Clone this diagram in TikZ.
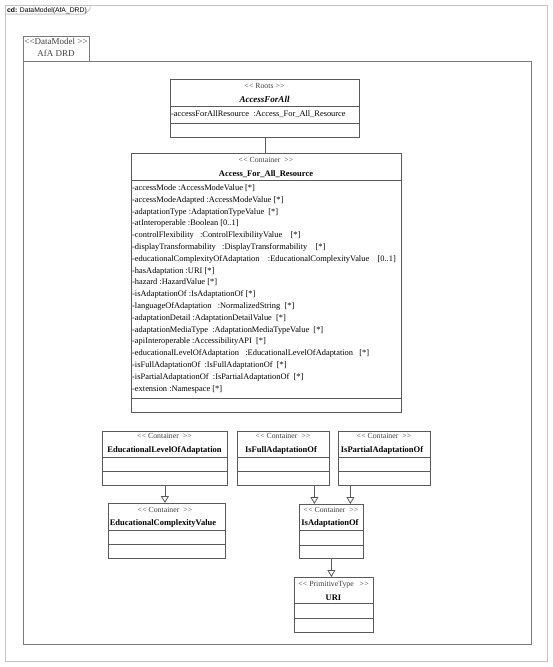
\documentclass[tikz,border=0pt]{standalone}
\usepackage{fontspec}
\setmainfont{Liberation Serif}
\newfontfamily\tabfont{Liberation Sans}
\usetikzlibrary{arrows.meta,calc}
\definecolor{framegray}{HTML}{C4C4C4}
\definecolor{pkggray}{HTML}{7A7A7A}
\definecolor{boxgray}{HTML}{5A5A5A}
\definecolor{stgray}{HTML}{404040}
\newcommand\stO{<\kern0.2pt<}
\newcommand\stC{>\kern0.2pt>}
\begin{document}
\begin{tikzpicture}[x=1pt,y=-1pt,
  cls/.style={draw=boxgray, line width=0.8pt, fill=white, rectangle, inner sep=0pt, anchor=north west},
  sep/.style={draw=boxgray, line width=0.8pt},
  stereo/.style={font=\fontsize{7.8}{9}\selectfont, text=stgray, inner sep=0pt, anchor=base},
  cname/.style={font=\bfseries\fontsize{8.5}{10}\selectfont, inner sep=0pt, anchor=base},
  attr/.style={font=\fontsize{8.4}{10}\selectfont, inner sep=0pt, anchor=base west},
  gen/.style={draw=boxgray, line width=0.8pt, -{Triangle[open, width=8pt, length=7pt]}},
]
\useasboundingbox (0,0) rectangle (553,667);
% diagram frame
\node[draw=framegray, line width=1pt, anchor=north west, minimum width=542pt, minimum height=656pt, inner sep=0pt] (frame) at (5,5) {};
\draw[framegray, line width=1pt] (5,14) -- (85,14) -- (90,9) -- (90,5);
\node[font=\tabfont\fontsize{6.8}{7}\selectfont, anchor=base west, inner sep=0pt] (cdlabel) at (7,12) {\textbf{cd:} DataModel(AfA\_DRD)};
% package
\node[draw=pkggray, line width=1pt, anchor=north west, minimum width=66pt, minimum height=25pt, inner sep=0pt] (pkgtab) at (23,36) {};
\node[draw=pkggray, line width=1pt, anchor=north west, minimum width=508pt, minimum height=583pt, inner sep=0pt] (pkg) at (23,61) {};
\node[font=\fontsize{9}{10}\selectfont, text=stgray, inner sep=0pt, anchor=base] (pkgst) at (56,44) {\stO DataModel \stC};
\node[font=\fontsize{9}{10}\selectfont, text=stgray, inner sep=0pt, anchor=base] (pkgname) at (56,56) {AfA DRD};
% Roots
\node[cls, minimum width=189pt, minimum height=58pt] (roots) at (170,79) {};
\draw[sep] (170,106) -- (359,106);
\draw[sep] (170,123) -- (359,123);
\node[stereo] (rootsst) at (264.5,88.5) {\stO\ Roots \stC};
\node[cname, font=\bfseries\itshape\fontsize{9}{10}\selectfont] (rootsname) at (264.5,102) {AccessForAll};
\node[attr] (rootsattr) at (171,116.5) {-accessForAllResource\ \ :Access\_For\_All\_Resource};
% Container
\node[cls, minimum width=270pt, minimum height=259pt] (cont) at (131,153) {};
\draw[sep] (roots.south) -- (roots.south |- cont.north);
\draw[sep] (131,180) -- (401,180);
\draw[sep] (131,398) -- (401,398);
\node[stereo] (contst) at (266,162.5) {\stO\ Container\ \ \stC};
\node[cname] (contname) at (266,176) {Access\_For\_All\_Resource};
\foreach \t [count=\i from 0] in {
{-accessMode :AccessModeValue [*]},
{-accessModeAdapted :AccessModeValue [*]},
{-adaptationType\ :AdaptationTypeValue\ \ [*]},
{-atInteroperable :Boolean [0..1]},
{-controlFlexibility\ \ \ :ControlFlexibilityValue\ \ \ \ [*]},
{-displayTransformability\ \ \ :DisplayTransformability\ \ \ \ [*]},
{-educationalComplexityOfAdaptation\ \ \ \ :EducationalComplexityValue\ \ \ \ [0..1]},
{-hasAdaptation :URI [*]},
{-hazard :HazardValue [*]},
{-isAdaptationOf\ :IsAdaptationOf [*]},
{-languageOfAdaptation\ \ \ :NormalizedString\ \ [*]},
{-adaptationDetail\ :AdaptationDetailValue\ \ [*]},
{-adaptationMediaType\ \ :AdaptationMediaTypeValue\ \ [*]},
{-apiInteroperable\ :AccessibilityAPI\ \ [*]},
{-educationalLevelOfAdaptation\ \ \ :EducationalLevelOfAdaptation\ \ \ [*]},
{-isFullAdaptationOf\ \ :IsFullAdaptationOf\ \ [*]},
{-isPartialAdaptationOf\ \ :IsPartialAdaptationOf\ \ [*]},
{-extension :Namespace [*]}}
  \node[attr] (attr\i) at (132,190.5+11.8*\i) {\t};
% EducationalLevelOfAdaptation
\node[cls, minimum width=125pt, minimum height=54pt] (eloa) at (102,431) {};
\draw[sep] (102,457) -- (227,457);
\draw[sep] (102,471) -- (227,471);
\node[stereo] (eloast) at (164.5,438.5) {\stO\ Container\ \ \stC};
\node[cname] (eloaname) at (164.5,452) {EducationalLevelOfAdaptation};
% IsFullAdaptationOf
\node[cls, minimum width=92pt, minimum height=54pt] (isfull) at (237,431) {};
\draw[sep] (237,457) -- (329,457);
\draw[sep] (237,471) -- (329,471);
\node[stereo] (isfullst) at (283,438.5) {\stO\ Container\ \ \stC};
\node[cname] (isfullname) at (281,452) {IsFullAdaptationOf};
% IsPartialAdaptationOf
\node[cls, minimum width=92pt, minimum height=54pt] (ispart) at (338,431) {};
\draw[sep] (338,457) -- (430,457);
\draw[sep] (338,471) -- (430,471);
\node[stereo] (ispartst) at (384,438.5) {\stO\ Container\ \ \stC};
\node[cname] (ispartname) at (382,452) {IsPartialAdaptationOf};
% EducationalComplexityValue
\node[cls, minimum width=117pt, minimum height=55pt] (ecv) at (108,503) {};
\draw[sep] (108,530) -- (225,530);
\draw[sep] (108,544) -- (225,544);
\node[stereo] (ecvst) at (165,512) {\stO\ Container\ \ \stC};
\node[cname] (ecvname) at (163,525) {EducationalComplexityValue};
% IsAdaptationOf
\node[cls, minimum width=64pt, minimum height=54pt] (isad) at (299,504) {};
\draw[sep] (299,530) -- (363,530);
\draw[sep] (299,545) -- (363,545);
\node[stereo] (isadst) at (331,512) {\stO\ Container\ \ \stC};
\node[cname] (isadname) at (330,525) {IsAdaptationOf};
% URI
\node[cls, minimum width=79pt, minimum height=55pt] (uri) at (294,577) {};
\draw[sep] (294,603) -- (373,603);
\draw[sep] (294,618) -- (373,618);
\node[stereo] (urist) at (333.5,586.5) {\stO\ PrimitiveType\ \ \ \stC};
\node[cname] (uriname) at (333.5,600) {URI};
% generalizations
\draw[gen] (eloa.south) -- (eloa.south |- ecv.north);
\draw[gen] ([xshift=31pt]isfull.south) -- ([xshift=31pt]isfull.south |- isad.north);
\draw[gen] ([xshift=-34pt]ispart.south) -- ([xshift=-34pt]ispart.south |- isad.north);
\draw[gen] (isad.south) -- (isad.south |- uri.north);
\end{tikzpicture}
\end{document}
